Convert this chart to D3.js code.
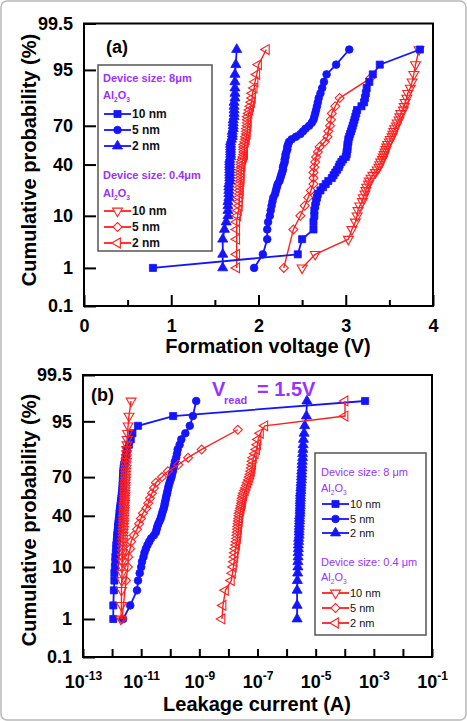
<!DOCTYPE html>
<html>
<head>
<meta charset="utf-8">
<script src="https://cdn.jsdelivr.net/npm/d3@7"></script>
<style>
  body { margin: 0; background: #fff; }
  svg { display: block; font-family: "Liberation Sans", Arial, sans-serif; }
</style>
</head>
<body>
<svg id="fig" width="467" height="721"></svg>
<script>
// ---- data ----
const probTicks = [0.1, 1, 10, 40, 70, 95, 99.5];
const probTickLabels = ["0.1", "1", "10", "40", "70", "95", "99.5"];
const voltTicks = [0, 1, 2, 3, 4];
const voltMinorTicks = [0.5, 1.5, 2.5, 3.5];
const currentLabelTicks = [1e-13, 1e-11, 1e-9, 1e-7, 1e-5, 1e-3, 1e-1];

// cumulative probability (%) of each device, 50-device and 23-device sets
const probLevels = [1, 2, 4, 6, 8, 10, 12, 14, 16, 18, 20, 22, 24, 26, 28, 30, 32, 34, 36, 38,
  40, 42, 44, 46, 48, 50, 52, 54, 56, 58, 60, 62, 64, 66, 68, 70, 72, 74, 76, 78,
  80, 82, 84, 86, 88, 90, 92, 94, 96, 98];
const probLevelsSmall = [1, 6, 10, 14, 18, 22, 26, 30, 34, 38, 42, 46, 50, 54, 58, 62, 66, 70, 74, 78, 82, 86, 93];

// (a) formation voltage (V)
const form8um10nm = [0.79, 2.45, 2.50, 2.63, 2.63, 2.64, 2.64, 2.65, 2.66, 2.67,
  2.68, 2.71, 2.74, 2.77, 2.80, 2.84, 2.86, 2.88, 2.90, 2.92,
  2.93, 2.95, 2.97, 3.00, 3.01, 3.01, 3.02, 3.02, 3.02, 3.03,
  3.03, 3.04, 3.05, 3.06, 3.07, 3.08, 3.09, 3.10, 3.11, 3.12,
  3.13, 3.18, 3.21, 3.22, 3.23, 3.24, 3.27, 3.31, 3.39, 3.85];
const form8um5nm = [1.95, 2.05, 2.10, 2.10, 2.11, 2.13, 2.14, 2.15, 2.16, 2.17,
  2.19, 2.20, 2.21, 2.22, 2.24, 2.25, 2.26, 2.27, 2.28, 2.28,
  2.29, 2.30, 2.30, 2.31, 2.31, 2.32, 2.33, 2.33, 2.34, 2.35,
  2.38, 2.43, 2.48, 2.51, 2.54, 2.58, 2.61, 2.63, 2.64, 2.65,
  2.66, 2.67, 2.68, 2.69, 2.71, 2.73, 2.75, 2.78, 2.89, 3.04];
const form8um2nm = [1.59, 1.59, 1.59, 1.61, 1.63, 1.65, 1.65, 1.65, 1.65, 1.66,
  1.66, 1.66, 1.66, 1.66, 1.67, 1.67, 1.67, 1.67, 1.67, 1.67,
  1.67, 1.67, 1.67, 1.68, 1.68, 1.68, 1.68, 1.68, 1.68, 1.68,
  1.69, 1.70, 1.70, 1.70, 1.71, 1.71, 1.71, 1.71, 1.72, 1.72,
  1.72, 1.72, 1.72, 1.73, 1.73, 1.73, 1.73, 1.73, 1.74, 1.75];
const form04um10nm = [2.50, 2.65, 3.03, 3.07, 3.11, 3.13, 3.14, 3.16, 3.19, 3.20,
  3.22, 3.23, 3.24, 3.26, 3.27, 3.29, 3.31, 3.34, 3.36, 3.38,
  3.39, 3.40, 3.42, 3.43, 3.44, 3.45, 3.46, 3.47, 3.48, 3.50,
  3.51, 3.53, 3.54, 3.55, 3.56, 3.58, 3.59, 3.61, 3.62, 3.63,
  3.66, 3.67, 3.68, 3.70, 3.71, 3.74, 3.76, 3.78, 3.80, 3.84];
const form04um5nm = [2.29, 2.40, 2.48, 2.53, 2.57, 2.60, 2.63, 2.63, 2.63, 2.64, 2.65, 2.66,
  2.68, 2.70, 2.76, 2.79, 2.80, 2.82, 2.83, 2.84, 2.88, 2.93, 3.28];
const form04um2nm = [1.75, 1.75, 1.75, 1.75, 1.75, 1.76, 1.77, 1.78, 1.78, 1.78,
  1.79, 1.79, 1.79, 1.79, 1.80, 1.80, 1.80, 1.80, 1.80, 1.81,
  1.81, 1.81, 1.82, 1.83, 1.84, 1.84, 1.84, 1.84, 1.84, 1.85,
  1.86, 1.86, 1.87, 1.87, 1.87, 1.88, 1.88, 1.88, 1.88, 1.89,
  1.90, 1.91, 1.92, 1.93, 1.93, 1.95, 1.96, 1.98, 2.00, 2.09];

// (b) leakage current (A) at Vread = 1.5 V
const leak8um10nm = [1.1e-12, 1.1e-12, 1.15e-12, 1.2e-12, 1.2e-12, 1.25e-12, 1.3e-12, 1.3e-12, 1.35e-12, 1.4e-12,
  1.4e-12, 1.45e-12, 1.5e-12, 1.5e-12, 1.55e-12, 1.6e-12, 1.6e-12, 1.65e-12, 1.7e-12, 1.75e-12,
  1.8e-12, 1.8e-12, 1.85e-12, 1.9e-12, 1.95e-12, 2.0e-12, 2.05e-12, 2.1e-12, 2.15e-12, 2.2e-12,
  2.25e-12, 2.3e-12, 2.3e-12, 2.35e-12, 2.35e-12, 2.4e-12, 2.4e-12, 2.45e-12, 2.5e-12, 2.6e-12,
  2.75e-12, 2.9e-12, 3.1e-12, 3.3e-12, 3.8e-12, 4.4e-12, 5.0e-12, 7.8e-12, 1.26e-10, 5.0e-4];
const leak8um5nm = [2.4e-12, 4.2e-12, 7.2e-12, 7.8e-12, 8.9e-12, 1.0e-11, 1.07e-11, 1.2e-11, 1.3e-11, 1.45e-11,
  1.65e-11, 1.9e-11, 2.2e-11, 2.75e-11, 3.2e-11, 3.4e-11, 3.6e-11, 3.9e-11, 4.3e-11, 4.7e-11,
  5.0e-11, 5.25e-11, 5.6e-11, 6.0e-11, 6.3e-11, 6.5e-11, 6.8e-11, 7.1e-11, 7.4e-11, 7.8e-11,
  8.1e-11, 8.5e-11, 8.9e-11, 9.5e-11, 1.02e-10, 1.1e-10, 1.15e-10, 1.23e-10, 1.3e-10, 1.38e-10,
  1.45e-10, 1.6e-10, 1.7e-10, 1.8e-10, 2.1e-10, 2.4e-10, 3.3e-10, 4.7e-10, 6.0e-10, 7.8e-10];
const leak8um2nm = [2.3e-6, 2.3e-6, 2.3e-6, 2.35e-6, 2.4e-6, 2.45e-6, 2.45e-6, 2.5e-6, 2.5e-6, 2.55e-6,
  2.55e-6, 2.6e-6, 2.6e-6, 2.7e-6, 2.7e-6, 2.7e-6, 2.75e-6, 2.75e-6, 2.8e-6, 2.8e-6,
  2.8e-6, 2.9e-6, 2.9e-6, 2.9e-6, 2.95e-6, 2.95e-6, 2.95e-6, 3.0e-6, 3.0e-6, 3.0e-6,
  3.1e-6, 3.1e-6, 3.15e-6, 3.15e-6, 3.25e-6, 3.25e-6, 3.3e-6, 3.3e-6, 3.4e-6, 3.4e-6,
  3.45e-6, 3.55e-6, 3.55e-6, 3.65e-6, 3.7e-6, 3.8e-6, 4.0e-6, 4.2e-6, 4.8e-6, 5.0e-6];
const leak04um10nm = [2.0e-12, 2.1e-12, 2.1e-12, 2.15e-12, 2.2e-12, 2.2e-12, 2.25e-12, 2.25e-12, 2.3e-12, 2.3e-12,
  2.35e-12, 2.35e-12, 2.4e-12, 2.4e-12, 2.4e-12, 2.45e-12, 2.45e-12, 2.5e-12, 2.5e-12, 2.5e-12,
  2.55e-12, 2.55e-12, 2.6e-12, 2.6e-12, 2.6e-12, 2.7e-12, 2.7e-12, 2.7e-12, 2.75e-12, 2.75e-12,
  2.75e-12, 2.8e-12, 2.8e-12, 2.8e-12, 2.9e-12, 2.9e-12, 2.95e-12, 2.95e-12, 3.0e-12, 3.0e-12,
  3.1e-12, 3.1e-12, 3.15e-12, 3.15e-12, 3.25e-12, 3.3e-12, 3.4e-12, 3.55e-12, 3.8e-12, 4.5e-12];
const leak04um5nm = [2.2e-12, 3.0e-12, 3.5e-12, 3.6e-12, 4.2e-12, 4.5e-12, 5.6e-12, 7.2e-12, 8.5e-12, 9.8e-12,
  1.15e-11, 1.5e-11, 1.75e-11, 2.0e-11, 2.35e-11, 2.75e-11, 3.2e-11, 5.2e-11, 8.3e-11, 1.9e-10,
  4.1e-10, 1.2e-9, 2.1e-8];
const leak04um2nm = [6.0e-9, 6.5e-9, 7.9e-9, 1.26e-8, 1.38e-8, 1.48e-8, 1.58e-8, 1.66e-8, 1.7e-8, 1.78e-8,
  1.9e-8, 1.95e-8, 2.04e-8, 2.09e-8, 2.14e-8, 2.19e-8, 2.24e-8, 2.29e-8, 2.34e-8, 2.4e-8,
  2.45e-8, 2.5e-8, 2.63e-8, 2.75e-8, 2.88e-8, 3.02e-8, 3.09e-8, 3.16e-8, 3.31e-8, 3.47e-8,
  3.8e-8, 4.07e-8, 4.37e-8, 4.68e-8, 5.13e-8, 5.5e-8, 5.89e-8, 6.17e-8, 6.46e-8, 6.76e-8,
  6.9e-8, 7.24e-8, 8.3e-8, 9.3e-8, 1.0e-7, 1.05e-7, 1.26e-7, 1.78e-7, 1.02e-4, 1.02e-4];

const thicknessLabels = ["10 nm", "5 nm", "2 nm"];

// ---- styling ----
const BLUE = "#1414ff";
const RED = "#ff2020";
const PURPLE = "#9933ff";

const shapes = {
  square: { type: d3.symbolSquare, size: 50, rot: 0 },
  circle: { type: d3.symbolCircle, size: 46, rot: 0 },
  triUp: { type: d3.symbolTriangle, size: 44, rot: 0 },
  triDown: { type: d3.symbolTriangle, size: 42, rot: 180 },
  diamond: { type: d3.symbolSquare, size: 40, rot: 45 },
  triLeft: { type: d3.symbolTriangle, size: 42, rot: -90 }
};

// inverse normal CDF (Acklam) for the probability axis
function probit(p) {
  const a = [-3.969683028665376e+01, 2.209460984245205e+02, -2.759285104469687e+02, 1.383577518672690e+02, -3.066479806614716e+01, 2.506628277459239e+00];
  const b = [-5.447609879822406e+01, 1.615858368580409e+02, -1.556989798598866e+02, 6.680131188771972e+01, -1.328068155288572e+01];
  const c = [-7.784894002430293e-03, -3.223964580411365e-01, -2.400758277161838e+00, -2.549732539343734e+00, 4.374664141464968e+00, 2.938163982698783e+00];
  const d = [7.784695709041462e-03, 3.224671290700398e-01, 2.445134137142996e+00, 3.754408661907416e+00];
  const pl = 0.02425;
  let q, r;
  if (p < pl) {
    q = Math.sqrt(-2 * Math.log(p));
    return (((((c[0] * q + c[1]) * q + c[2]) * q + c[3]) * q + c[4]) * q + c[5]) / ((((d[0] * q + d[1]) * q + d[2]) * q + d[3]) * q + 1);
  }
  if (p <= 1 - pl) {
    q = p - 0.5; r = q * q;
    return (((((a[0] * r + a[1]) * r + a[2]) * r + a[3]) * r + a[4]) * r + a[5]) * q / (((((b[0] * r + b[1]) * r + b[2]) * r + b[3]) * r + b[4]) * r + 1);
  }
  q = Math.sqrt(-2 * Math.log(1 - p));
  return -(((((c[0] * q + c[1]) * q + c[2]) * q + c[3]) * q + c[4]) * q + c[5]) / ((((d[0] * q + d[1]) * q + d[2]) * q + d[3]) * q + 1);
}

const svg = d3.select("#fig");

svg.append("rect").attr("x", 1).attr("y", 1).attr("width", 465).attr("height", 719)
  .attr("rx", 6).attr("fill", "#fff").attr("stroke", "#b8b8b8").attr("stroke-width", 1.5);

function marker(sel, shapeKey, color, filled) {
  const sh = shapes[shapeKey];
  sel.attr("d", d3.symbol(sh.type, sh.size)())
    .attr("fill", filled ? color : "none")
    .attr("stroke", color)
    .attr("stroke-width", filled ? 0.8 : 1.1);
  return sh.rot;
}

function drawSeries(g, s, x, y) {
  const pts = s.values.map((v, i) => [x(v), y(probit(s.probs[i] / 100))]);
  g.append("path")
    .attr("d", d3.line()(pts))
    .attr("fill", "none")
    .attr("stroke", s.color)
    .attr("stroke-width", s.filled ? 1.8 : 1.4);
  const rot = shapes[s.shape].rot;
  g.append("g").selectAll("path")
    .data(pts)
    .join("path")
    .attr("transform", (d) => `translate(${d[0]},${d[1]}) rotate(${rot})`)
    .call((sel) => marker(sel, s.shape, s.color, s.filled));
}

function yAxis(g, y) {
  g.call(d3.axisLeft(y)
      .tickValues(probTicks.map((p) => probit(p / 100)))
      .tickFormat((d, i) => probTickLabels[i])
      .tickSize(-12).tickPadding(11))
    .call((a) => a.select(".domain").remove())
    .call((a) => a.selectAll("line").attr("stroke", "#000").attr("stroke-width", 2))
    .call((a) => a.selectAll("text").attr("font-size", 18).attr("font-weight", "bold")
      .attr("font-family", "Liberation Sans, Arial, sans-serif").attr("fill", "#000"));
}

function legend(g, box, L, bold) {
  g.append("rect").attr("x", box[0]).attr("y", box[1]).attr("width", box[2]).attr("height", box[3])
    .attr("fill", "#fff").attr("stroke", "#555").attr("stroke-width", 1.5);
  const groups = [
    { title: L.titles[0], color: BLUE, filled: true, shapes: ["square", "circle", "triUp"] },
    { title: L.titles[1], color: RED, filled: false, shapes: ["triDown", "diamond", "triLeft"] }
  ];
  groups.forEach((grp, gi) => {
    g.append("text").attr("x", L.textX0).attr("y", L.headY[gi] + 4)
      .attr("font-size", L.headSize).attr("font-weight", bold ? "bold" : "normal")
      .attr("fill", PURPLE).text(grp.title);
    const al = g.append("text").attr("x", L.textX0).attr("y", L.alY[gi] + 4)
      .attr("font-size", L.headSize).attr("font-weight", bold ? "bold" : "normal").attr("fill", PURPLE);
    al.append("tspan").text("Al");
    al.append("tspan").attr("font-size", L.headSize * 0.6).attr("dy", 3).text("2");
    al.append("tspan").attr("dy", -3).text("O");
    al.append("tspan").attr("font-size", L.headSize * 0.6).attr("dy", 3).text("3");
    grp.shapes.forEach((shp, k) => {
      const yy = L.rowY[gi][k];
      g.append("line").attr("x1", L.lineX[0]).attr("x2", L.lineX[1]).attr("y1", yy).attr("y2", yy)
        .attr("stroke", grp.color).attr("stroke-width", 1.8);
      const m = g.append("path");
      const rot = marker(m, shp, grp.color, grp.filled);
      m.attr("transform", `translate(${(L.lineX[0] + L.lineX[1]) / 2},${yy}) rotate(${rot})`);
      if (!grp.filled) m.attr("fill", "#fff");
      g.append("text").attr("x", L.lineX[1] + 1).attr("y", yy + 4)
        .attr("font-size", L.rowSize).attr("font-weight", bold ? "bold" : "normal")
        .attr("fill", "#111").text(thicknessLabels[k]);
    });
  });
}

// ---- panel (a) ----
const A = { left: 84, right: 433, top: 23.5, bottom: 306 };
const xA = d3.scaleLinear().domain([0, 4]).range([A.left, A.right]);
const yA = d3.scaleLinear().domain([probit(0.001), probit(0.995)]).range([A.bottom, A.top]);
const gA = svg.append("g");

const seriesA = [
  { values: form04um10nm, probs: probLevels, color: RED, shape: "triDown", filled: false },
  { values: form04um5nm, probs: probLevelsSmall, color: RED, shape: "diamond", filled: false },
  { values: form04um2nm, probs: probLevels, color: RED, shape: "triLeft", filled: false },
  { values: form8um2nm, probs: probLevels, color: BLUE, shape: "triUp", filled: true },
  { values: form8um5nm, probs: probLevels, color: BLUE, shape: "circle", filled: true },
  { values: form8um10nm, probs: probLevels, color: BLUE, shape: "square", filled: true }
];
seriesA.forEach((s) => drawSeries(gA, s, xA, yA));

gA.append("g").attr("transform", `translate(0,${A.bottom})`)
  .call(d3.axisBottom(xA).tickValues(voltMinorTicks).tickSize(-6).tickFormat(""))
  .call((a) => a.select(".domain").remove())
  .call((a) => a.selectAll("line").attr("stroke", "#000").attr("stroke-width", 2));
gA.append("g").attr("transform", `translate(0,${A.bottom})`)
  .call(d3.axisBottom(xA).tickValues(voltTicks).tickSize(-11).tickPadding(13).tickFormat(d3.format("d")))
  .call((a) => a.select(".domain").remove())
  .call((a) => a.selectAll("line").attr("stroke", "#000").attr("stroke-width", 2))
  .call((a) => a.selectAll("text").attr("font-size", 18).attr("font-weight", "bold")
    .attr("font-family", "Liberation Sans, Arial, sans-serif").attr("fill", "#000"));
gA.append("g").attr("transform", `translate(${A.left},0)`).call((g) => yAxis(g, yA));

gA.append("rect").attr("x", A.left).attr("y", A.top).attr("width", A.right - A.left).attr("height", A.bottom - A.top)
  .attr("fill", "none").attr("stroke", "#000").attr("stroke-width", 2);

legend(gA, [98, 65, 114, 186], {
  titles: ["Device size: 8μm", "Device size: 0.4μm"],
  textX0: 103, headY: [78, 175], alY: [95, 193],
  rowY: [[114, 130, 146], [211, 227, 243]],
  lineX: [104, 131], headSize: 11, rowSize: 12
}, true);

gA.append("text").attr("x", 106).attr("y", 53).attr("font-size", 18).attr("font-weight", "bold").text("(a)");
gA.append("text").attr("x", 268).attr("y", 353).attr("text-anchor", "middle")
  .attr("font-size", 20).attr("font-weight", "bold").text("Formation voltage (V)");
gA.append("text").attr("transform", "translate(36,160) rotate(-90)").attr("text-anchor", "middle")
  .attr("font-size", 20).attr("font-weight", "bold").text("Cumulative probability (%)");

// ---- panel (b) ----
const B = { left: 83, right: 432, top: 375, bottom: 657 };
const xB = d3.scaleLog().domain([1e-13, 1e-1]).range([B.left, B.right]);
const yB = d3.scaleLinear().domain([probit(0.001), probit(0.995)]).range([B.bottom, B.top]);
const gB = svg.append("g");

const seriesB = [
  { values: leak8um2nm, probs: probLevels, color: BLUE, shape: "triUp", filled: true },
  { values: leak8um5nm, probs: probLevels, color: BLUE, shape: "circle", filled: true },
  { values: leak8um10nm, probs: probLevels, color: BLUE, shape: "square", filled: true },
  { values: leak04um2nm, probs: probLevels, color: RED, shape: "triLeft", filled: false },
  { values: leak04um5nm, probs: probLevelsSmall, color: RED, shape: "diamond", filled: false },
  { values: leak04um10nm, probs: probLevels, color: RED, shape: "triDown", filled: false }
];
seriesB.forEach((s) => drawSeries(gB, s, xB, yB));

const decadeTicks = xB.ticks().filter((v) => Math.abs(Math.log10(v) - Math.round(Math.log10(v))) < 1e-6);
const minorTicks = xB.ticks().filter((v) => !decadeTicks.includes(v));
gB.append("g").attr("transform", `translate(0,${B.bottom})`)
  .call(d3.axisBottom(xB).tickValues(minorTicks).tickSize(-4).tickFormat(""))
  .call((a) => a.select(".domain").remove())
  .call((a) => a.selectAll("line").attr("stroke", "#000").attr("stroke-width", 1.5));
gB.append("g").attr("transform", `translate(0,${B.bottom})`)
  .call(d3.axisBottom(xB).tickValues(decadeTicks).tickSize(-8).tickFormat(""))
  .call((a) => a.select(".domain").remove())
  .call((a) => a.selectAll("line").attr("stroke", "#000").attr("stroke-width", 2));
const xLab = gB.append("g").attr("transform", `translate(0,${B.bottom})`)
  .call(d3.axisBottom(xB).tickValues(currentLabelTicks).tickSize(0).tickPadding(18).tickFormat(""))
  .call((a) => a.select(".domain").remove());
xLab.selectAll("text").each(function (d) {
  const t = d3.select(this)
    .attr("font-size", 18).attr("font-weight", "bold").attr("fill", "#000")
    .attr("font-family", "Liberation Sans, Arial, sans-serif").attr("dy", "0.71em");
  t.append("tspan").text("10");
  t.append("tspan").attr("font-size", 12).attr("dy", -8).text(String(Math.round(Math.log10(d))));
});
gB.append("g").attr("transform", `translate(${B.left},0)`).call((g) => yAxis(g, yB));

gB.append("rect").attr("x", B.left).attr("y", B.top).attr("width", B.right - B.left).attr("height", B.bottom - B.top)
  .attr("fill", "none").attr("stroke", "#000").attr("stroke-width", 2);

legend(gB, [315, 453, 111, 182], {
  titles: ["Device size: 8 μm", "Device size: 0.4 μm"],
  textX0: 321, headY: [472, 562], alY: [488, 577],
  rowY: [[504, 519, 533], [593, 608, 623]],
  lineX: [322, 349], headSize: 11, rowSize: 11
}, false);

gB.append("text").attr("x", 91).attr("y", 401).attr("font-size", 18).attr("font-weight", "bold").text("(b)");
gB.append("text").attr("x", 212).attr("y", 396).attr("font-size", 20).attr("font-weight", "bold")
  .attr("fill", PURPLE).text("V");
gB.append("text").attr("x", 224).attr("y", 404).attr("font-size", 11).attr("font-weight", "bold")
  .attr("fill", PURPLE).text("read");
gB.append("text").attr("x", 257).attr("y", 396).attr("font-size", 20).attr("font-weight", "bold")
  .attr("fill", PURPLE).text("= 1.5V");
gB.append("text").attr("x", 257).attr("y", 711).attr("text-anchor", "middle")
  .attr("font-size", 20).attr("font-weight", "bold").text("Leakage current (A)");
gB.append("text").attr("transform", "translate(36,520) rotate(-90)").attr("text-anchor", "middle")
  .attr("font-size", 20).attr("font-weight", "bold").text("Cumulative probability (%)");
</script>
</body>
</html>
